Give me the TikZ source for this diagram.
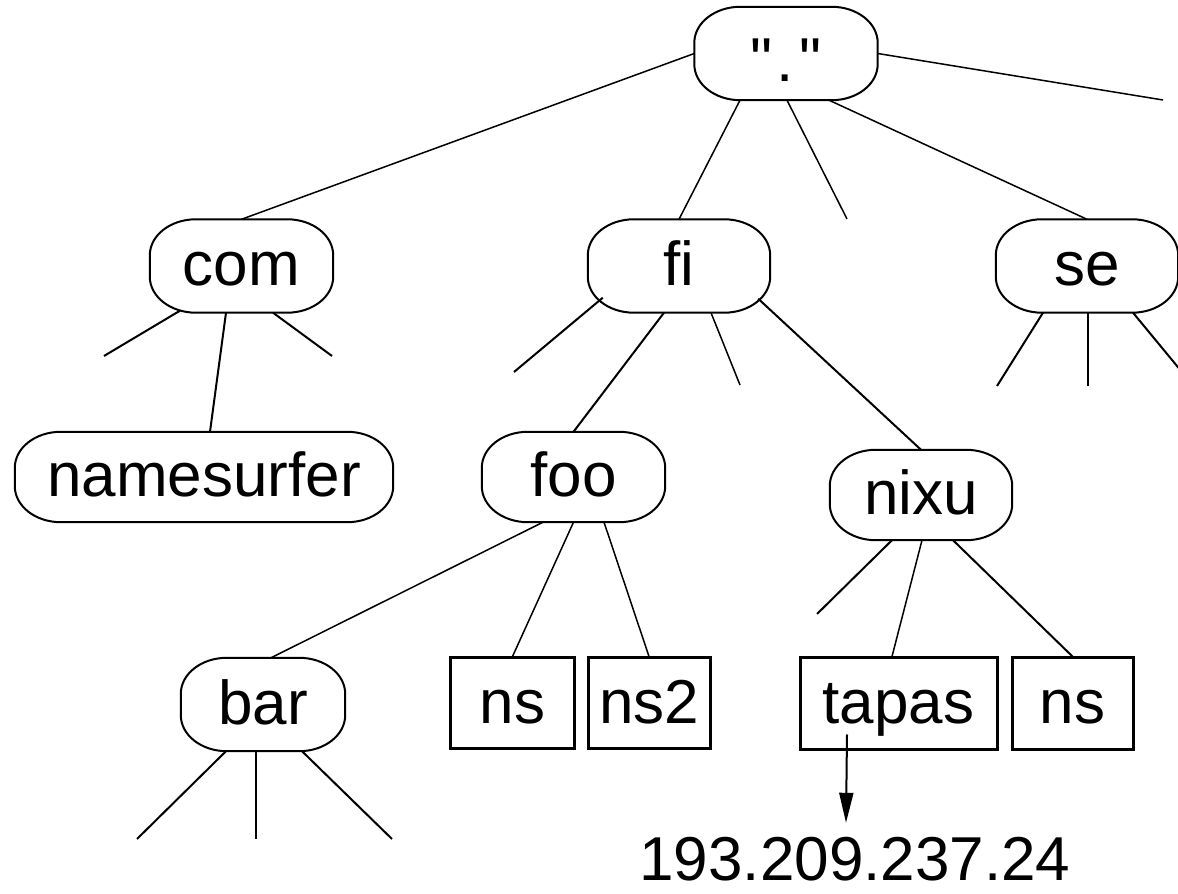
\documentclass[tikz,border=0pt]{standalone}
\usepackage{fontspec}
\setmainfont{Liberation Sans}
\newfontfamily\qfont{Liberation Sans}[Ligatures=TeXOff]
\usetikzlibrary{arrows.meta}
\begin{document}
\begin{tikzpicture}[x=1pt,y=1pt,
  lbl/.style={inner sep=0pt, font=\fontsize{62}{70}\selectfont, text height=45pt, text depth=5pt},
  rnode/.style={lbl, minimum height=93pt},
  bnode/.style={lbl, draw, line width=3pt, minimum height=91pt},
  outline/.style={line width=2pt},
  edge/.style={line width=2pt},
  thinedge/.style={line width=1.5pt}]
\useasboundingbox (0,0) rectangle (1178,894);
% rounded nodes
\node[rnode, minimum width=183pt, text height=56pt, text depth=0pt] (root) at (786,840.5) {\qfont "\kern4pt.\kern5pt"};
\node[rnode, minimum width=183pt] (com) at (241.5,628) {com};
\node[rnode, minimum width=182pt] (fi) at (679,628) {fi};
\node[rnode, minimum width=182pt] (se) at (1087,628) {se};
\node[rnode, minimum width=378pt, minimum height=90pt] (names) at (204,417) {namesurfer};
\node[rnode, minimum width=183pt, minimum height=90pt] (foo) at (573.5,417) {foo};
\node[rnode, minimum width=182pt, minimum height=90pt] (nixu) at (921,399) {nixu};
\node[rnode, minimum width=164pt] (bar) at (263,189.5) {bar};
% rectangular nodes
\node[bnode, minimum width=124pt] (ns1) at (512.5,190.5) {ns};
\node[bnode, minimum width=122pt] (ns2) at (649,190.5) {ns2};
\node[bnode, minimum width=197pt, minimum height=92pt] (tapas) at (898.5,190) {tapas};
\node[bnode, minimum width=121pt, minimum height=92pt] (ns3) at (1072.5,190) {ns};
\node[lbl, anchor=base] (ip) at (855,13) {193.209.237.24};
% outlines of rounded nodes
\foreach \n in {root,com,fi,se,names,foo,nixu,bar}{
  \draw[outline] ([xshift=46pt]\n.north west) -- ([xshift=-46pt]\n.north east)
    arc[start angle=90,end angle=0,x radius=46pt,y radius=36pt]
    -- ([yshift=36pt]\n.south east)
    arc[start angle=0,end angle=-90,x radius=46pt,y radius=36pt]
    -- ([xshift=46pt]\n.south west)
    arc[start angle=270,end angle=180,x radius=46pt,y radius=36pt]
    -- ([yshift=-36pt]\n.north west)
    arc[start angle=180,end angle=90,x radius=46pt,y radius=36pt] -- cycle;
}
% free ends
\coordinate (r3) at (847,675);
\coordinate (r5) at (1163,794);
\coordinate (c1) at (104,538);
\coordinate (c3) at (332,538);
\coordinate (f1) at (514,522);
\coordinate (f3) at (740,509);
\coordinate (s1) at (997,508);
\coordinate (s2) at (1088,508);
\coordinate (s3) at (1193.5,508);
\coordinate (n1) at (817,280);
\coordinate (b1) at (137,55);
\coordinate (b2) at (256,55);
\coordinate (b3) at (392,55);
% root edges
\draw[thinedge] (root.west) -- (com.north);
\draw[thinedge] ([xshift=-46pt]root.south) -- (fi.north);
\draw[thinedge] ([xshift=1pt]root.south) -- (r3);
\draw[thinedge] ([xshift=43pt]root.south) -- (se.north);
\draw[thinedge] (root.east) -- (r5);
% com edges
\draw[edge] ([xshift=-61.5pt,yshift=2pt]com.south) -- (c1);
\draw[edge] ([xshift=-15.5pt]com.south) -- ([xshift=6pt]names.north);
\draw[edge] ([xshift=31.5pt]com.south) -- (c3);
% fi edges
\draw[edge] ([shift={(15pt,15pt)}]fi.south west) -- (f1);
\draw[edge] ([xshift=-15pt]fi.south) -- (foo.north);
\draw[thinedge] ([xshift=32pt]fi.south) -- (f3);
\draw[edge] ([shift={(-12pt,14pt)}]fi.south east) -- (nixu.north);
% se edges
\draw[edge] ([xshift=-44pt]se.south) -- (s1);
\draw[edge] ([xshift=1pt]se.south) -- (s2);
\draw[edge] ([xshift=46pt]se.south) -- (s3);
% foo edges
\draw[thinedge] ([xshift=-30.5pt]foo.south) -- ([xshift=8pt]bar.north);
\draw[thinedge] (foo.south) -- (ns1.north);
\draw[thinedge] ([xshift=30.5pt]foo.south) -- (ns2.north);
% nixu edges
\draw[edge] ([xshift=-29pt]nixu.south) -- (n1);
\draw[thinedge] ([xshift=1pt]nixu.south) -- ([xshift=-6.5pt]tapas.north);
\draw[edge] ([xshift=32pt]nixu.south) -- (ns3.north);
% bar edges
\draw[edge] ([xshift=-37pt]bar.south) -- (b1);
\draw[edge] ([xshift=-7pt]bar.south) -- (b2);
\draw[edge] ([xshift=39pt]bar.south) -- (b3);
% arrow to address
\draw[edge, -{Triangle[length=30pt,width=14pt]}] ([shift={(-51.5pt,17pt)}]tapas.south) -- ([shift={(-9pt,13pt)}]ip.north);
\end{tikzpicture}
\end{document}
